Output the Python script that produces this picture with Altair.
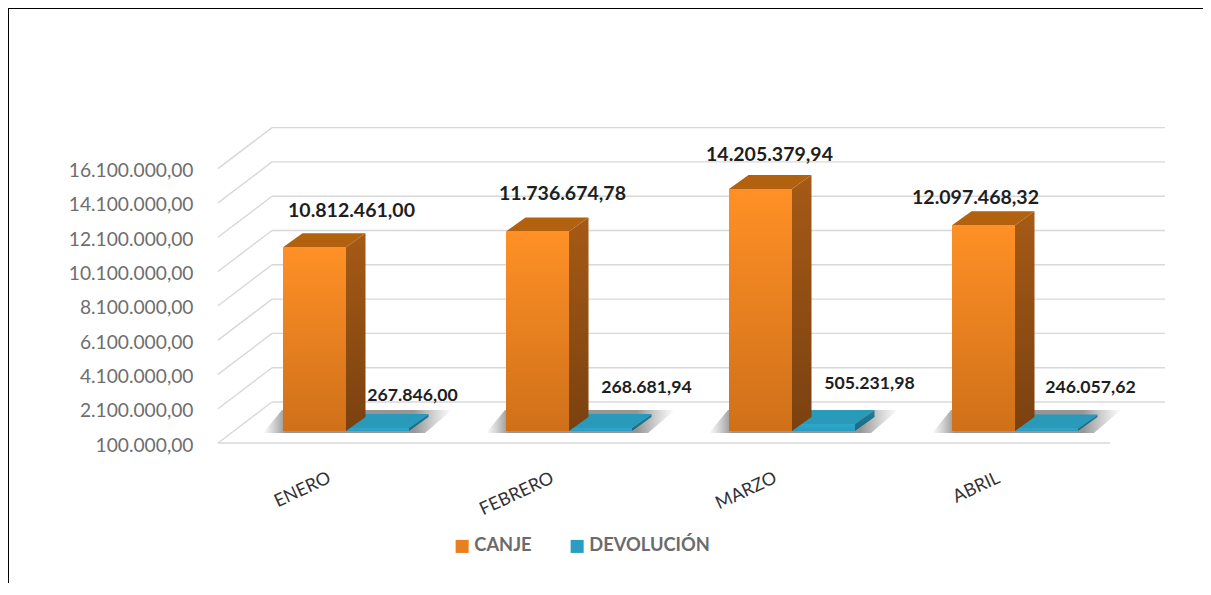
import altair as alt
import pandas as pd

MONTHS = ["ENERO", "FEBRERO", "MARZO", "ABRIL"]
CANJE = [10812461.00, 11736674.78, 14205379.94, 12097468.32]
DEVOLUCION = [267846.00, 268681.94, 505231.98, 246057.62]
CANJE_TXT = ["10.812.461,00", "11.736.674,78", "14.205.379,94", "12.097.468,32"]
DEVOLUCION_TXT = ["267.846,00", "268.681,94", "505.231,98", "246.057,62"]
TICKS = [100000, 2100000, 4100000, 6100000, 8100000, 10100000, 12100000, 14100000, 16100000]
TICK_TXT = ["100.000,00", "2.100.000,00", "4.100.000,00", "6.100.000,00", "8.100.000,00",
            "10.100.000,00", "12.100.000,00", "14.100.000,00", "16.100.000,00"]

# projection of the pseudo-3D box, in axis units
W, H = 947, 316
PAD = {"left": 210, "top": 119, "right": 38, "bottom": 140}
PX_X, PX_Y = 223.0, 17.15e-6        # px per category, px per value unit
u = lambda px: px / PX_X
v = lambda px: px / PX_Y
XDOM = [0, W / PX_X]
YDOM = [100000, 100000 + v(H)]
WALL_DX, WALL_DY = u(54), v(41)
FLOOR_END = 4.0
BAR_W, BAR_DX, BAR_DY = u(63), u(19.5), v(14)
BAR_LIFT = v(12)
ORANGE_LEFT, TEAL_LEFT = u(65), u(65) + BAR_W

# label nudges (px), as placed by hand in the source chart
NUDGE_C = [(37, -36), (25, -37), (9, -34), (-8, -27)]
NUDGE_D = [(35, -32), (46, -40), (46, -40), (44, -40)]

FONT = "Lato"
ylab = "{" + ",".join(f"'{t}':'{s}'" for t, s in zip(TICKS, TICK_TXT)) + "}"
X_AXIS = alt.Axis(values=[i + 0.5 for i in range(4)], title=None, domain=False, ticks=False, grid=False,
                  labelExpr=f"{MONTHS}[floor(datum.value)]", labelAngle=335, labelAlign="right",
                  labelBaseline="middle", labelPadding=34, labelFont=FONT, labelFontSize=18,
                  labelColor="#333333", labelOverlap=False, labelBound=False, labelFlush=False)
Y_AXIS = alt.Axis(values=TICKS, title=None, domain=False, ticks=False, grid=False,
                  labelExpr=f"{ylab}[datum.value]", labelPadding=25, labelFont=FONT, labelFontSize=19.2,
                  labelColor="#6e6e6e", labelOverlap=False, labelBound=False, labelFlush=False,
                  labelOffset=2)

X = lambda f="x": alt.X(f"{f}:Q", scale=alt.Scale(domain=XDOM, nice=False, zero=False), axis=X_AXIS)
Y = lambda f="y": alt.Y(f"{f}:Q", scale=alt.Scale(domain=YDOM, nice=False, zero=False), axis=Y_AXIS)
grad = lambda a, b: alt.Gradient(
    gradient="linear", x1=0, y1=0, x2=0, y2=1,
    stops=[alt.GradientStop(offset=0, color=a), alt.GradientStop(offset=1, color=b)])

layers = []
axis_df = pd.DataFrame({"x": [0.0], "y": [TICKS[0]]})

# wall grid
grid_back = pd.DataFrame({"x": [WALL_DX] * 9, "x2": [XDOM[1]] * 9, "y": [t + WALL_DY for t in TICKS]})
grid_side = pd.DataFrame({"x": [0.0] * 9, "x2": [WALL_DX] * 9, "y": TICKS, "y2": [t + WALL_DY for t in TICKS]})
grid_floor = pd.DataFrame({"x": [0.0], "x2": [FLOOR_END], "y": [TICKS[0]]})
gridmark = dict(color="#d8d8d8", strokeWidth=1.4)
layers.append(alt.Chart(grid_back).mark_rule(**gridmark).encode(x=X(), x2="x2:Q", y=Y()))
layers.append(alt.Chart(grid_side).mark_rule(**gridmark).encode(x=X(), x2="x2:Q", y=Y(), y2="y2:Q"))
layers.append(alt.Chart(grid_floor).mark_rule(**gridmark).encode(x=X(), x2="x2:Q", y=Y()))

# floor shadows
rows = []
for i in range(4):
    rows += [dict(g=i, y=100000 + v(10), x=i + u(45), x2=i + u(207)),
             dict(g=i, y=100000 + v(33), x=i + u(64), x2=i + u(234))]
shadow = alt.Chart(pd.DataFrame(rows)).mark_area(
    orient="horizontal",
    color=alt.Gradient(gradient="linear", x1=0, y1=0, x2=1, y2=0, stops=[
        alt.GradientStop(offset=0, color="#ffffff"), alt.GradientStop(offset=0.06, color="#cfcfcf"),
        alt.GradientStop(offset=0.12, color="#969696"), alt.GradientStop(offset=0.8, color="#969696"),
        alt.GradientStop(offset=0.9, color="#d0d0d0"), alt.GradientStop(offset=1, color="#ffffff")])
).encode(y=Y(), x=X(), x2="x2:Q", detail="g:N")
layers.append(shadow)

series = [
    ("DEVOLUCIÓN", DEVOLUCION, TEAL_LEFT,
     ("#2fa6cc", "#2b9bbf"), ("#1f7d99", "#186a82"), "#2a9abb"),
    ("CANJE", CANJE, ORANGE_LEFT,
     ("#ff9026", "#cf7019"), ("#a65a16", "#7a4110"), "#b2620f"),
]
for name, vals, left, front, side, top in series:
    bars, sides, tops = [], [], []
    for i, val in enumerate(vals):
        x0, x1 = i + left, i + left + BAR_W
        b, t = 100000 + BAR_LIFT, val + BAR_LIFT
        bars.append(dict(serie=name, x=x0, x2=x1, y=b, y2=t))
        sides += [dict(g=i, x=x1, y=b, y2=t), dict(g=i, x=x1 + BAR_DX, y=b + BAR_DY, y2=t + BAR_DY)]
        tops += [dict(g=i, y=t, x=x0, x2=x1), dict(g=i, y=t + BAR_DY, x=x0 + BAR_DX, x2=x1 + BAR_DX)]
    layers.append(alt.Chart(pd.DataFrame(sides)).mark_area(
        orient="vertical", color=grad(*side)).encode(x=X(), y=Y(), y2="y2:Q", detail="g:N"))
    layers.append(alt.Chart(pd.DataFrame(tops)).mark_area(
        orient="horizontal", color=top).encode(y=Y(), x=X(), x2="x2:Q", detail="g:N"))
    layers.append(alt.Chart(pd.DataFrame(bars)).mark_bar().encode(
        x=X(), x2="x2:Q", y=Y(), y2="y2:Q",
        color=alt.Color("serie:N",
                        scale=alt.Scale(domain=["CANJE", "DEVOLUCIÓN"], range=["#e8801f", "#2a9ec2"]),
                        legend=alt.Legend(title=None, orient="none", legendX=235, legendY=410, direction="horizontal",
                                          symbolType="square", symbolSize=170, symbolStrokeWidth=0,
                                          labelFont=FONT, labelFontSize=18.3, labelFontWeight="bold",
                                          labelColor="#6b6b6b", columnPadding=36, labelOffset=3))))
    layers.append(alt.Chart(pd.DataFrame(bars)).mark_bar(color=grad(*front)).encode(
        x=X(), x2="x2:Q", y=Y(), y2="y2:Q"))

# value labels
for vals, txts, left, nudges, size in [(CANJE, CANJE_TXT, ORANGE_LEFT, NUDGE_C, 19.5),
                                       (DEVOLUCION, DEVOLUCION_TXT, TEAL_LEFT, NUDGE_D, 17.7)]:
    for i, (val, txt, (dx, dy)) in enumerate(zip(vals, txts, nudges)):
        d = pd.DataFrame({"x": [i + left + BAR_W / 2], "y": [val + BAR_LIFT], "t": [txt]})
        layers.append(alt.Chart(d).mark_text(font=FONT, fontSize=size, fontWeight="bold", color="#1e1e1e",
                                             dx=dx, dy=dy).encode(x=X(), y=Y(), text="t:N"))

# picture frame
layers.append(alt.Chart(axis_df).mark_rule(color="#000000", strokeWidth=2).encode(
    x=alt.value(-PAD["left"]), y=alt.value(-PAD["top"]), y2=alt.value(H + PAD["bottom"])))
layers.append(alt.Chart(axis_df).mark_rule(color="#000000", strokeWidth=2).encode(
    x=alt.value(-PAD["left"]), x2=alt.value(W + PAD["right"]), y=alt.value(-PAD["top"])))

chart = alt.layer(*layers).properties(
    width=W, height=H, padding=PAD,
    autosize=alt.AutoSizeParams(type="none"), background="#ffffff"
).configure_view(stroke=None)

chart.save("out.html", embed_options={"renderer": "svg", "actions": False})
